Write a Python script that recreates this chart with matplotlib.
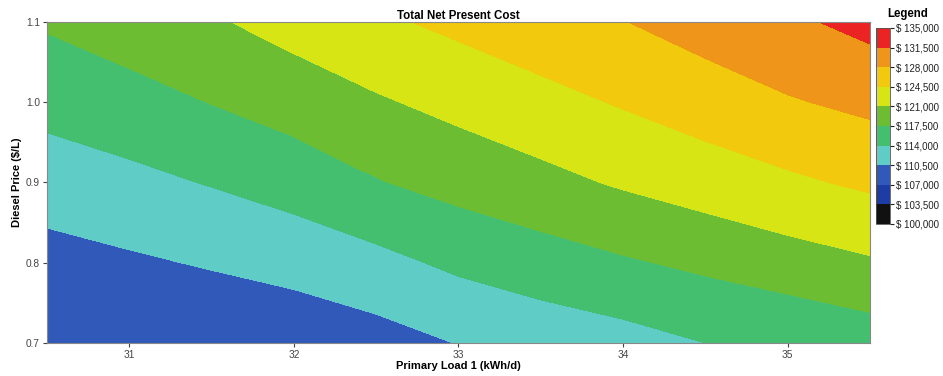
import numpy as np
import matplotlib.pyplot as plt

plt.rcParams['font.family'] = ['Liberation Sans', 'DejaVu Sans']

# Primary load (kWh/d) and diesel price ($/L) grid
primary_load = [30.5, 31.0, 31.5, 32.0, 32.5, 33.0, 33.5, 34.0, 34.5, 35.0, 35.5]
diesel_price = [0.7, 0.8, 0.9, 1.0, 1.1]

# Total net present cost, thousands of $ (rows = diesel price, cols = load)
npc_070 = [107.3, 107.6, 107.6, 108.1, 109.1, 110.6, 111.8, 112.7, 114.0, 114.4, 115.6]
npc_080 = [109.2, 110.0, 110.8, 111.7, 113.0, 114.7, 115.9, 117.1, 118.2, 119.5, 120.6]
npc_090 = [112.2, 113.1, 114.2, 115.5, 117.3, 118.7, 120.0, 121.4, 122.7, 123.9, 125.1]
npc_100 = [115.1, 116.2, 117.6, 119.0, 120.6, 122.0, 123.4, 124.8, 126.2, 127.7, 128.8]
npc_110 = [117.9, 119.3, 120.6, 122.3, 123.9, 125.3, 126.7, 127.9, 129.5, 130.9, 132.5]

levels = [100000, 103500, 107000, 110500, 114000, 117500,
          121000, 124500, 128000, 131500, 135000]
band_colors = ['#111111', '#1e3ca6', '#3059b9', '#5fcdc6', '#44bf6f',
               '#6dbd32', '#d7e515', '#f2c90c', '#ef9519', '#ec2323']

npc = np.array([npc_070, npc_080, npc_090, npc_100, npc_110]) * 1000
X, Y = np.meshgrid(primary_load, diesel_price)

fig = plt.figure(figsize=(9.43, 3.76), dpi=100)
ax = fig.add_axes([0.0498, 0.0878, 0.8728, 0.8537])
cs = ax.contourf(X, Y, npc, levels=levels, colors=band_colors)

ax.set_xlim(30.5, 35.5)
ax.set_ylim(0.7, 1.1)
ax.set_xticks([31, 32, 33, 34, 35])
ax.set_yticks([0.7, 0.8, 0.9, 1.0, 1.1])
ax.set_yticklabels(['0.7', '0.8', '0.9', '1.0', '1.1'])
ax.tick_params(labelsize=7.3, colors='#444444', length=3, width=0.8, pad=2)
for s in ax.spines.values():
    s.set_color('#888888')
    s.set_linewidth(0.8)

ax.set_title('Total Net Present Cost', fontsize=8.3, fontweight='bold', pad=2)
ax.set_xlabel('Primary Load 1 (kWh/d)', fontsize=8, fontweight='bold', labelpad=1)
ax.set_ylabel('Diesel Price ($/L)', fontsize=8, fontweight='bold', labelpad=3)

# colour legend
cax = fig.add_axes([0.929, 0.4043, 0.01485, 0.5213])
cb = fig.colorbar(cs, cax=cax, ticks=levels)
cb.ax.set_yticklabels(['$ {:,}'.format(v) for v in levels])
cb.ax.tick_params(labelsize=7, colors='#222222', length=3, width=0.8, pad=1)
cb.outline.set_linewidth(0.6)
cb.outline.set_edgecolor('#555555')
fig.text(0.962, 0.962, 'Legend', fontsize=8.3, fontweight='bold', ha='center', va='center')

fig.savefig('out.png', dpi=100)
